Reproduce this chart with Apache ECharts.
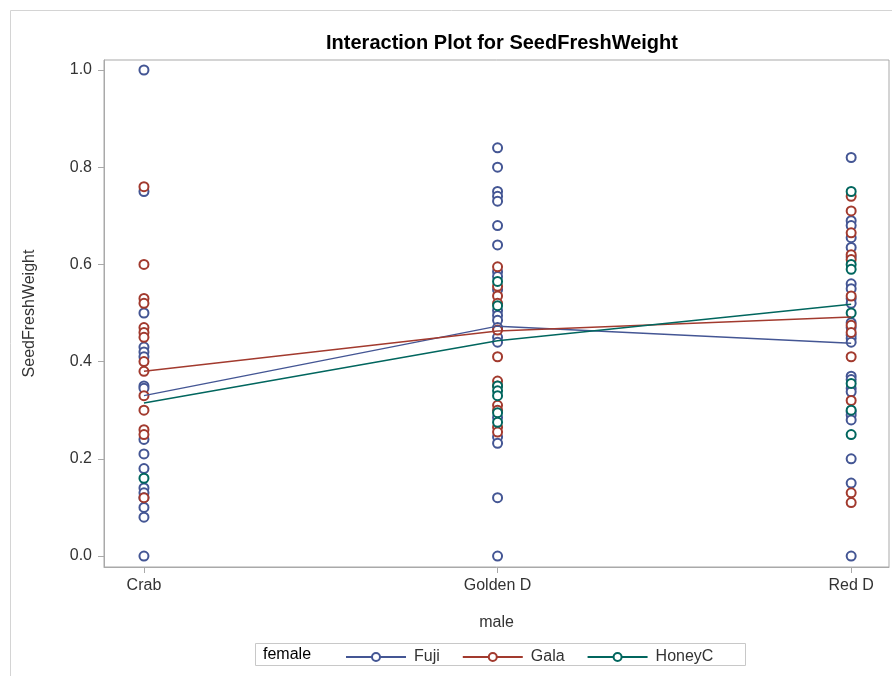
<!DOCTYPE html>
<html>
<head>
<meta charset="utf-8">
<script src="https://cdn.jsdelivr.net/npm/echarts@6/dist/echarts.min.js"></script>
<style>html,body{margin:0;padding:0;background:#fff;}#main{width:892px;height:676px;}</style>
</head>
<body>
<div id="main"></div>
<script>
const categories = ['Crab', 'Golden D', 'Red D'];
const yTicks = [0, 0.2, 0.4, 0.6, 0.8, 1.0];
const females = ['Fuji', 'Gala', 'HoneyC'];

// observed points: female x male
const fujiCrab = [1.0, 0.75, 0.50, 0.43, 0.42, 0.41, 0.35, 0.345, 0.24, 0.21, 0.18, 0.14, 0.13, 0.12, 0.10, 0.08, 0.0];
const fujiGolden = [0.84, 0.80, 0.75, 0.74, 0.73, 0.68, 0.64, 0.585, 0.575, 0.548, 0.505, 0.495, 0.485, 0.47, 0.45, 0.44, 0.285, 0.245, 0.232, 0.12, 0.0];
const fujiRed = [0.82, 0.69, 0.68, 0.655, 0.635, 0.615, 0.56, 0.55, 0.53, 0.52, 0.48, 0.47, 0.455, 0.448, 0.44, 0.37, 0.363, 0.345, 0.338, 0.297, 0.29, 0.28, 0.20, 0.15, 0.0];

const galaCrab = [0.76, 0.60, 0.53, 0.52, 0.47, 0.46, 0.45, 0.40, 0.38, 0.33, 0.30, 0.26, 0.25, 0.12];
const galaGolden = [0.595, 0.555, 0.535, 0.52, 0.465, 0.41, 0.36, 0.35, 0.31, 0.30, 0.265, 0.255];
const galaRed = [0.74, 0.71, 0.665, 0.62, 0.61, 0.535, 0.475, 0.46, 0.41, 0.32, 0.13, 0.11];

const honeyCrab = [0.16];
const honeyGolden = [0.565, 0.515, 0.35, 0.34, 0.33, 0.295, 0.275];
const honeyRed = [0.75, 0.60, 0.59, 0.50, 0.355, 0.30, 0.25];

// cell means (interaction lines)
const fujiMeans = [0.33, 0.473, 0.438];
const galaMeans = [0.38, 0.463, 0.492];
const honeyMeans = [0.315, 0.443, 0.518];

const colors = ['#445694', '#A23A2E', '#01665E'];
const FONT = 'Liberation Sans, Arial, sans-serif';

function pts(lists) {
  const out = [];
  lists.forEach((arr, i) => arr.forEach(v => out.push([i, v])));
  return out;
}
const pointSets = [
  pts([fujiCrab, fujiGolden, fujiRed]),
  pts([galaCrab, galaGolden, galaRed]),
  pts([honeyCrab, honeyGolden, honeyRed])
];
const meanSets = [fujiMeans, galaMeans, honeyMeans];

const series = [];
females.forEach((f, i) => {
  series.push({
    name: f, type: 'line', symbol: 'emptyCircle', showSymbol: false,
    data: meanSets[i].map((v, j) => [j, v]),
    lineStyle: { color: colors[i], width: 1.5 },
    itemStyle: { color: colors[i], borderWidth: 1.5 },
    z: 3, silent: true, animation: false
  });
});
females.forEach((f, i) => {
  series.push({
    name: f, type: 'scatter', symbol: 'emptyCircle', symbolSize: 9,
    data: pointSets[i],
    itemStyle: { color: colors[i], borderColor: colors[i], borderWidth: 1.4, opacity: 1 },
    z: 2, animation: false
  });
});

const chart = echarts.init(document.getElementById('main'));
chart.setOption({
  animation: false,
  backgroundColor: '#fff',
  title: {
    text: 'Interaction Plot for SeedFreshWeight',
    left: 497, top: 28, textAlign: 'center',
    textStyle: { fontFamily: FONT, fontSize: 20, fontWeight: 'bold', color: '#000' }
  },
  grid: { left: 104, right: 3, top: 60, bottom: 109, show: true, borderColor: '#a9a9a9', borderWidth: 1, containLabel: false },
  xAxis: {
    type: 'value', min: -0.113, max: 2.107,
    name: 'male', nameLocation: 'middle', nameGap: 48,
    nameTextStyle: { fontFamily: FONT, fontSize: 16, color: '#333' },
    axisLine: { show: true, onZero: false, lineStyle: { color: '#a9a9a9' } },
    axisTick: { show: true, length: 6, customValues: [0, 1, 2], lineStyle: { color: '#a9a9a9' } },
    axisLabel: { customValues: [0, 1, 2], formatter: v => categories[Math.round(v)], margin: 11, fontFamily: FONT, fontSize: 16, color: '#333' },
    splitLine: { show: false }
  },
  yAxis: {
    type: 'value', min: -0.0226, max: 1.0206,
    name: 'SeedFreshWeight', nameLocation: 'middle', nameGap: 66,
    nameTextStyle: { fontFamily: FONT, fontSize: 16, color: '#333' },
    axisLine: { show: true, onZero: false, lineStyle: { color: '#a9a9a9' } },
    axisTick: { show: true, length: 6, customValues: yTicks, lineStyle: { color: '#a9a9a9' } },
    axisLabel: { customValues: yTicks, formatter: v => v.toFixed(1), margin: 12, fontFamily: FONT, fontSize: 16, color: '#333' },
    splitLine: { show: false }
  },
  legend: {
    data: females, left: 345, top: 649, padding: 0,
    itemWidth: 60, itemHeight: 10, itemGap: 22,
    selectedMode: false,
    textStyle: { fontFamily: FONT, fontSize: 16, color: '#333', padding: [0, 0, 0, 3] }
  },
  graphic: [
    { type: 'line', shape: { x1: 10.5, y1: 10.5, x2: 892, y2: 10.5 }, style: { stroke: '#d4d4d4', lineWidth: 1 } },
    { type: 'line', shape: { x1: 10.5, y1: 10.5, x2: 10.5, y2: 676 }, style: { stroke: '#d4d4d4', lineWidth: 1 } },
    { type: 'rect', shape: { x: 255.5, y: 643.5, width: 490, height: 22 }, style: { fill: 'none', stroke: '#c8c8c8', lineWidth: 1 } },
    { type: 'text', left: 263, top: 647, style: { text: 'female', fontFamily: FONT, fontSize: 16, fill: '#000' } }
  ],
  series: series
});
</script>
</body>
</html>
